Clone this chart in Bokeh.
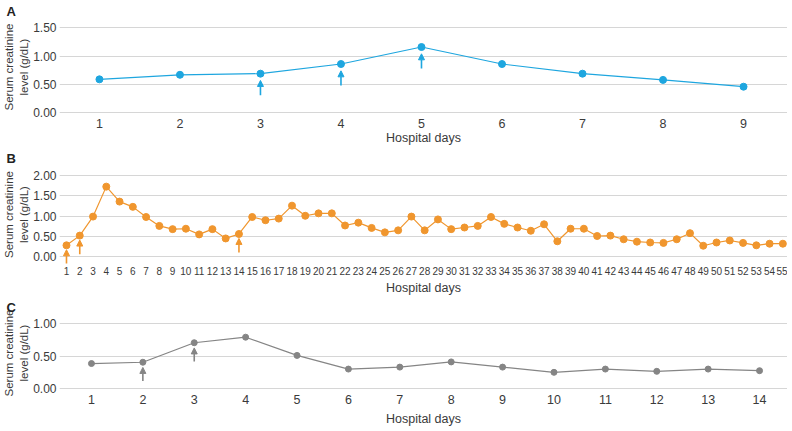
from bokeh.plotting import figure
from bokeh.layouts import column
from bokeh.models import (ColumnDataSource, Arrow, NormalHead, FixedTicker, Range1d,
                          PrintfTickFormatter, Title)
from bokeh.embed import file_html
from bokeh.resources import INLINE

# ---- data ----
days_a = [1, 2, 3, 4, 5, 6, 7, 8, 9]
creat_a = [0.59, 0.67, 0.69, 0.86, 1.16, 0.86, 0.69, 0.58, 0.46]
arrows_a = [3, 4, 5]

days_b = list(range(1, 56))
creat_b = [0.28, 0.52, 0.99, 1.73, 1.36, 1.23, 0.98, 0.76, 0.68, 0.69,
           0.55, 0.68, 0.45, 0.56, 0.98, 0.90, 0.94, 1.26, 1.01, 1.07,
           1.07, 0.77, 0.84, 0.71, 0.60, 0.65, 0.99, 0.65, 0.92, 0.68,
           0.72, 0.76, 0.98, 0.81, 0.72, 0.64, 0.80, 0.38, 0.69, 0.69,
           0.51, 0.52, 0.43, 0.37, 0.35, 0.34, 0.43, 0.58, 0.27, 0.35,
           0.40, 0.34, 0.28, 0.32, 0.32]
arrows_b = [1, 2, 14]

days_c = list(range(1, 15))
creat_c = [0.39, 0.41, 0.71, 0.795, 0.515, 0.305, 0.335, 0.415, 0.335, 0.255,
           0.305, 0.27, 0.305, 0.28]
arrows_c = [2, 3]

yticks_a = [0.0, 0.5, 1.0, 1.5]
yticks_b = [0.0, 0.5, 1.0, 1.5, 2.0]
yticks_c = [0.0, 0.5, 1.0]

x_title = "Hospital days"
y_title_lines = ["Serum creatinine", "level (g/dL)"]

FONT = "Liberation Sans"
TXT = "#3a3a3a"
W = 787


def panel(letter, days, vals, arrow_days, color, yticks, x_rng, y_rng, height,
          top, bottom, tick_size, xlabel_standoff, msize, tip_gap, arr_len, ytitle_shift=0):
    p = figure(width=W, height=height, output_backend="svg", toolbar_location=None,
               x_range=Range1d(*x_rng), y_range=Range1d(*y_rng),
               min_border_left=58, min_border_right=0, min_border_top=top,
               min_border_bottom=bottom, title=letter)
    p.outline_line_color = None
    p.background_fill_color = "white"
    p.border_fill_color = "white"
    p.xgrid.grid_line_color = None
    p.ygrid.grid_line_color = "#d6d6d6"
    p.ygrid.grid_line_width = 1

    p.title.text_font = FONT
    p.title.text_font_size = "13px"
    p.title.text_font_style = "bold"
    p.title.text_color = "#222222"
    p.title.align = "left"
    p.title.standoff = 0
    p.title.offset = -53

    for ax in (p.xaxis[0], p.yaxis[0]):
        ax.axis_line_color = None
        ax.major_tick_line_color = None
        ax.minor_tick_line_color = None
        ax.major_tick_out = 0
        ax.major_tick_in = 0
        ax.minor_tick_out = 0
        ax.minor_tick_in = 0
        ax.major_label_text_font = FONT
        ax.major_label_text_color = TXT
        ax.major_label_standoff = 3
        ax.axis_label_text_font = FONT
        ax.axis_label_text_font_style = "normal"
        ax.axis_label_text_color = TXT

    p.xaxis.ticker = FixedTicker(ticks=days)
    p.xaxis.major_label_text_font_size = tick_size
    p.xaxis.axis_label = x_title
    p.xaxis.axis_label_text_font_size = "12.5px"
    p.xaxis.axis_label_standoff = xlabel_standoff

    p.yaxis.ticker = FixedTicker(ticks=yticks)
    p.yaxis.formatter = PrintfTickFormatter(format="%.2f")
    p.yaxis.major_label_text_font_size = "12px"

    # two centred lines of the y title (inner line first, outer line second)
    for i, line_text in enumerate(reversed(y_title_lines)):
        t = Title(text=line_text, align="center", text_font=FONT, text_font_size="11.5px",
                  text_font_style="normal", text_color=TXT, text_line_height=1.0,
                  standoff=2 if i == 0 else 0, offset=ytitle_shift)
        p.add_layout(t, "left")

    src = ColumnDataSource(dict(x=days, y=vals))
    p.line("x", "y", source=src, line_color=color, line_width=1.2)
    p.scatter("x", "y", source=src, size=msize, fill_color=color, line_color=color)

    lookup = dict(zip(days, vals))
    tips = [lookup[d] - tip_gap for d in arrow_days]
    starts = [t - arr_len for t in tips]
    asrc = ColumnDataSource(dict(x=arrow_days, y0=starts, y1=tips))
    p.add_layout(Arrow(source=asrc, x_start="x", y_start="y0", x_end="x", y_end="y1",
                       line_color=color, line_width=1.6,
                       end=NormalHead(size=6, fill_color=color, line_color=color, line_width=1)))
    return p


# A: fig 0..148, frame 18..115 ; 0.00 at y=112.3, 56.7 px per unit
pa = panel("A", days_a, creat_a, arrows_a, "#1ea6df", yticks_a, (0.504, 9.546), (-0.048, 1.663),
           148, 18, 33, "12.5px", 0, 7, 0.12, 0.26)
# B: fig 148..297, frame 164..264 ; 0.00 at y=257, 41.3 px per unit
pb = panel("B", days_b, creat_b, arrows_b, "#f0962e", yticks_b, (0.473, 55.35), (-0.169, 2.252),
           149, 16, 33, "10px", 3, 7, 0.11, 0.35)
# C: fig 297..431, frame 312..391 ; 0.00 at y=388.3, 66.7 px per unit
pc = panel("C", days_c, creat_c, arrows_c, "#858585", yticks_c, (0.378, 14.544), (-0.04, 1.144),
           134, 15, 40, "12.5px", 5, 6, 0.08, 0.21, ytitle_shift=-7)

layout = column(pa, pb, pc, spacing=0)
open("out.html", "w").write(file_html(layout, INLINE))
